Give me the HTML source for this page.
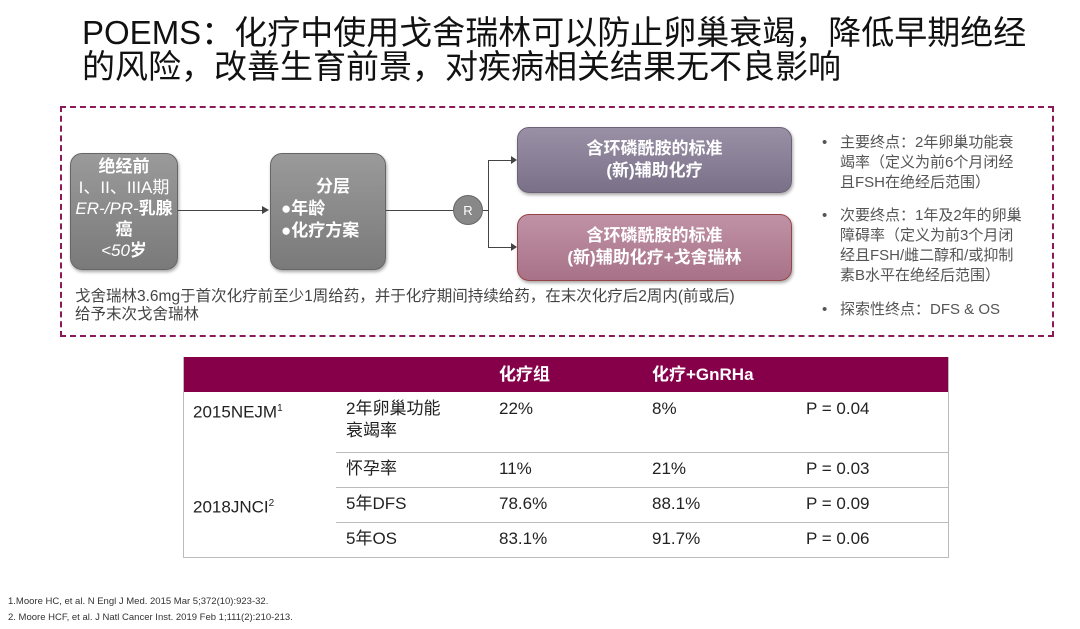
<!DOCTYPE html>
<html><head><meta charset="utf-8"><style>
body{margin:0;width:1080px;height:629px;background:#fff;position:relative;overflow:hidden;font-family:"Liberation Sans","Noto Sans CJK SC",sans-serif;color:#333}
.a{position:absolute}
.title{left:82px;top:16px;font-size:33px;line-height:34px;color:#111;white-space:nowrap}
.frame{left:60px;top:106px;width:990px;height:227px;border:2px dashed #8a1a5a}
.box{position:absolute;border-radius:12px;color:#fff;font-weight:bold;text-align:center;box-shadow:1px 2px 3px rgba(0,0,0,.35)}
.g{background:linear-gradient(#9a9a9a,#7a7a7a);border:1px solid #666}
.line{position:absolute;background:#444}
.cap{left:75px;top:288px;font-size:15.5px;line-height:18px;color:#444;white-space:nowrap}
.rt{left:822px;font-size:15px;line-height:20px;color:#555;white-space:nowrap}
.rt span{position:absolute;left:0}
.rt div{margin-left:18px}
.tb{left:183px;top:357px;width:764px;height:200px;border:1px solid #bbb;border-top:none}
.hd{left:183px;top:357px;width:765px;height:35px;background:#860049}
.c{position:absolute;font-size:17px;line-height:22px;color:#222}
.hl{position:absolute;left:336px;width:612px;height:1px;background:#bbb}
.fn{left:8px;font-size:9.5px;color:#333}
</style></head><body>
<div class="a title">POEMS：化疗中使用戈舍瑞林可以防止卵巢衰竭，降低早期绝经<br>的风险，改善生育前景，对疾病相关结果无不良影响</div>
<div class="a frame"></div>
<div class="box g" style="left:70px;top:153px;width:108px;height:117px;font-size:17px;line-height:21px;padding-top:2px;box-sizing:border-box">绝经前<br><span style="font-weight:normal">I、II、IIIA期<br><i>ER-/PR-</i></span>乳腺<br>癌<br><i style="font-weight:normal">&lt;50</i>岁</div>
<div class="line" style="left:178px;top:210px;width:86px;height:1px"></div>
<div class="a" style="left:262px;top:206px;border-left:7px solid #444;border-top:4px solid transparent;border-bottom:4px solid transparent"></div>
<div class="box g" style="left:270px;top:153px;width:116px;height:117px;font-size:17px;line-height:22px;padding-top:22px;box-sizing:border-box;text-align:left;padding-left:10px"><div style="text-align:center">分层</div>●年龄<br>●化疗方案</div>
<div class="line" style="left:386px;top:210px;width:68px;height:1px"></div>
<div class="a" style="left:453px;top:195px;width:30px;height:30px;border-radius:50%;background:#888;color:#fff;font-size:13px;text-align:center;line-height:30px;border:1px solid #666;box-sizing:border-box">R</div>
<div class="line" style="left:483px;top:210px;width:5px;height:1px"></div>
<div class="line" style="left:488px;top:160px;width:1px;height:88px"></div>
<div class="line" style="left:488px;top:160px;width:24px;height:1px"></div>
<div class="line" style="left:488px;top:247px;width:24px;height:1px"></div>
<div class="a" style="left:511px;top:156px;border-left:6px solid #444;border-top:4px solid transparent;border-bottom:4px solid transparent"></div>
<div class="a" style="left:511px;top:243px;border-left:6px solid #444;border-top:4px solid transparent;border-bottom:4px solid transparent"></div>
<div class="box" style="left:517px;top:127px;width:275px;height:66px;background:linear-gradient(#9a90a6,#7a7088);border:1px solid #6c6278;font-size:17px;line-height:22px;padding-top:10px;box-sizing:border-box">含环磷酰胺的标准<br>(新)辅助化疗</div>
<div class="box" style="left:517px;top:214px;width:275px;height:67px;background:linear-gradient(#c092a6,#a87288);border:1px solid #944;font-size:17px;line-height:22px;padding-top:10px;box-sizing:border-box">含环磷酰胺的标准<br>(新)辅助化疗+戈舍瑞林</div>
<div class="a cap">戈舍瑞林3.6mg于首次化疗前至少1周给药，并于化疗期间持续给药，在末次化疗后2周内(前或后)<br>给予末次戈舍瑞林</div>
<div class="a rt" style="top:133px"><span>•</span><div>主要终点：2年卵巢功能衰<br>竭率（定义为前6个月闭经<br>且FSH在绝经后范围）</div></div>
<div class="a rt" style="top:206px"><span>•</span><div>次要终点：1年及2年的卵巢<br>障碍率（定义为前3个月闭<br>经且FSH/雌二醇和/或抑制<br>素B水平在绝经后范围）</div></div>
<div class="a rt" style="top:300px"><span>•</span><div>探索性终点：DFS &amp; OS</div></div>

<div class="a hd"></div>
<div class="a tb"></div>
<div class="c" style="left:499px;top:364px;color:#fff;font-weight:bold">化疗组</div>
<div class="c" style="left:652px;top:364px;color:#fff;font-weight:bold">化疗+GnRHa</div>
<div class="hl" style="top:452px"></div>
<div class="hl" style="top:487px"></div>
<div class="hl" style="top:522px"></div>
<div class="c" style="left:193px;top:398px">2015NEJM<sup style="font-size:10px">1</sup></div>
<div class="c" style="left:346px;top:398px">2年卵巢功能<br>衰竭率</div>
<div class="c" style="left:499px;top:398px">22%</div>
<div class="c" style="left:652px;top:398px">8%</div>
<div class="c" style="left:806px;top:398px">P = 0.04</div>
<div class="c" style="left:346px;top:458px">怀孕率</div>
<div class="c" style="left:499px;top:458px">11%</div>
<div class="c" style="left:652px;top:458px">21%</div>
<div class="c" style="left:806px;top:458px">P = 0.03</div>
<div class="c" style="left:193px;top:493px">2018JNCI<sup style="font-size:10px">2</sup></div>
<div class="c" style="left:346px;top:493px">5年DFS</div>
<div class="c" style="left:499px;top:493px">78.6%</div>
<div class="c" style="left:652px;top:493px">88.1%</div>
<div class="c" style="left:806px;top:493px">P = 0.09</div>
<div class="c" style="left:346px;top:528px">5年OS</div>
<div class="c" style="left:499px;top:528px">83.1%</div>
<div class="c" style="left:652px;top:528px">91.7%</div>
<div class="c" style="left:806px;top:528px">P = 0.06</div>

<div class="a fn" style="top:596px">1.Moore HC, et al. N Engl J Med. 2015 Mar 5;372(10):923-32.</div>
<div class="a fn" style="top:612px">2. Moore HCF, et al. J Natl Cancer Inst. 2019 Feb 1;111(2):210-213.</div>
</body></html>
